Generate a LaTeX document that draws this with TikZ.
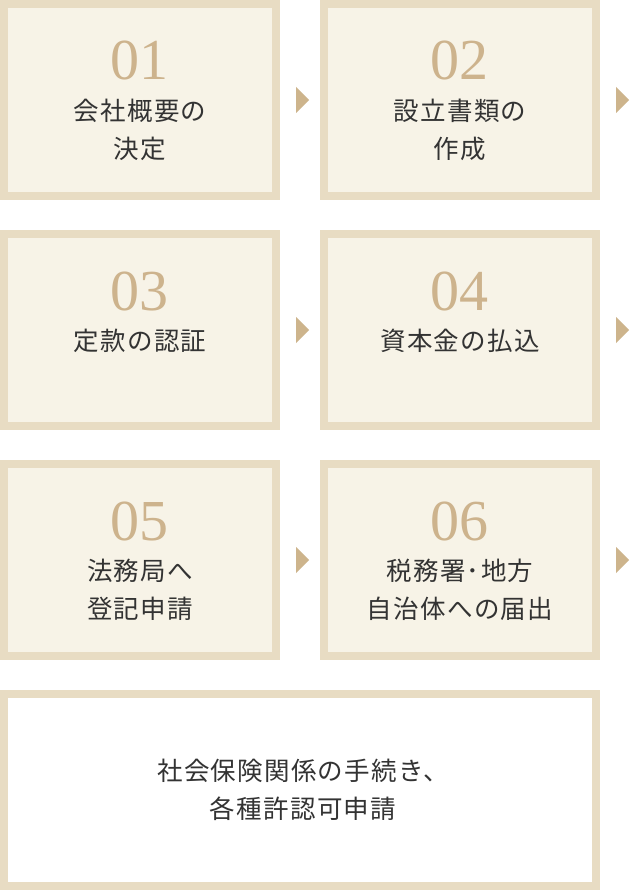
\documentclass[tikz,border=0pt]{standalone}
\usepackage{fontspec}
\setmainfont{Liberation Serif}
\newfontfamily\cjk[LetterSpace=5]{Noto Sans CJK JP}
\definecolor{bordercol}{HTML}{E8DCC3}
\definecolor{fillcol}{HTML}{F7F3E7}
\definecolor{numcol}{HTML}{CDB38D}
\definecolor{tricol}{HTML}{CDB48C}
\definecolor{txtcol}{HTML}{333333}
\tikzset{
  stepbox/.style={draw=bordercol, line width=8pt, fill=fillcol, minimum width=272pt, minimum height=192pt, inner sep=0pt, outer sep=0pt},
  lastbox/.style={draw=bordercol, line width=8pt, fill=white, minimum width=592pt, minimum height=192pt, inner sep=0pt, outer sep=0pt},
  numlabel/.style={text=numcol, font=\fontsize{58}{58}\selectfont, inner sep=0pt},
  steptext/.style={text=txtcol, font=\cjk\fontsize{25.5}{37.5}\selectfont, align=center, inner sep=0pt},
  tri/.style={fill=tricol},
}
\begin{document}
\begin{tikzpicture}[x=1pt,y=-1pt]
\useasboundingbox (0,0) rectangle (640,890);
% boxes
\node[stepbox] (s1) at (140,100) {};
\node[stepbox] (s2) at (460,100) {};
\node[stepbox] (s3) at (140,330) {};
\node[stepbox] (s4) at (460,330) {};
\node[stepbox] (s5) at (140,560) {};
\node[stepbox] (s6) at (460,560) {};
\node[lastbox] (s7) at (300,790) {};
% numbers
\node[numlabel] (n1) at (139,61) {01};
\node[numlabel] (n2) at (459,61) {02};
\node[numlabel] (n3) at (139,291) {03};
\node[numlabel] (n4) at (459,291) {04};
\node[numlabel] (n5) at (139,521) {05};
\node[numlabel] (n6) at (459,521) {06};
% texts
\node[steptext] (t1) at (140,130) {会社概要の\\決定};
\node[steptext] (t2) at (460,130) {設立書類の\\作成};
\node[steptext] (t3) at (140,341) {定款の認証};
\node[steptext] (t4) at (460,341) {資本金の払込};
\node[steptext] (t5) at (140,590) {法務局へ\\登記申請};
\node[steptext] (t6) at (460,590) {税務署･地方\\自治体への届出};
\node[steptext] (t7) at (303,790) {社会保険関係の手続き、\\各種許認可申請};
% triangles
\foreach \b in {s1,s2,s3,s4,s5,s6}{
  \coordinate (p\b) at ([xshift=4pt]\b.east);
  \fill[tri] ([xshift=16pt,yshift=-13pt]p\b) -- ([xshift=29pt]p\b) -- ([xshift=16pt,yshift=13pt]p\b) -- cycle;
}
\end{tikzpicture}
\end{document}
